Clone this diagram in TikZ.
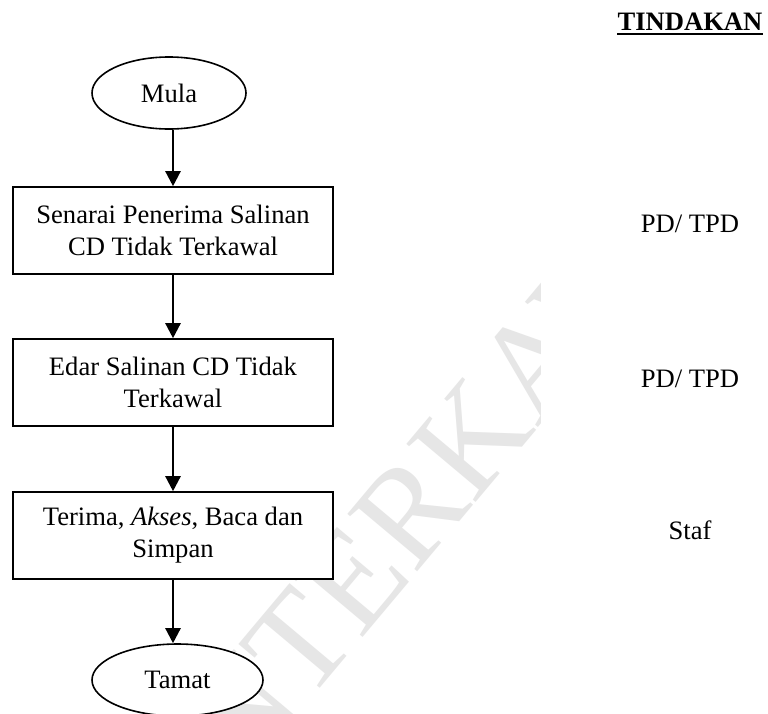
\documentclass[tikz,border=0pt]{standalone}
\usepackage{fontspec}
\setmainfont{Liberation Serif}
\usetikzlibrary{arrows.meta,shapes.geometric}
\definecolor{wmgray}{RGB}{230,230,230}
\tikzset{
  every node/.style={font=\fontsize{26.6}{32}\selectfont},
  stepbox/.style={draw, line width=1.6pt, fill=white, rectangle, minimum width=320pt, minimum height=87pt, align=center, inner sep=0pt},
  term/.style={draw, line width=1.6pt, fill=white, ellipse, inner sep=0pt},
  arr/.style={line width=2.4pt, -{Triangle[width=15pt,length=15pt]}},
  actor/.style={anchor=base, inner sep=0pt},
  wm/.style={text=wmgray, inner sep=0pt, rotate=50, font=\fontsize{138}{140}\selectfont}
}
\begin{document}
\begin{tikzpicture}[x=1pt,y=-1pt]
\useasboundingbox (0,0) rectangle (768,713);
\fill[white] (0,0) rectangle (768,713);
% watermark
\begin{scope}
\clip (0,0) rectangle (540,713);
\node[wm, anchor=base west] (wm2) at (306,705) {TERKAWAL};
\node[wm, anchor=base east] (wm1) at (wm2.base west) {SALINAN\ };
\end{scope}
% flow
\node[term, minimum width=154pt, minimum height=72pt] (mula) at (169,93) {Mula};
\node[stepbox] (b1) at (173,230.5) {Senarai Penerima Salinan\\CD Tidak Terkawal};
\node[stepbox] (b2) at (173,382.5) {Edar Salinan CD Tidak\\Terkawal};
\node[stepbox] (b3) at (173,535.5) {Terima, \textit{Akses}, Baca dan\\Simpan};
\node[term, minimum width=171pt, minimum height=72pt] (tamat) at (177.5,680) {Tamat};
\draw[arr] (b1.north |- mula.south) -- (b1.north);
\draw[arr] (b1.south) -- (b2.north);
\draw[arr] (b2.south) -- (b3.north);
\draw[arr] (b3.south) -- (b3.south |- tamat.north);
% actions
\node[actor, font=\fontsize{26.6}{32}\selectfont\bfseries] (tind) at (690,30) {TINDAKAN};
\draw[line width=2pt] ([yshift=-4]tind.base west) -- ([yshift=-4]tind.base east);
\node[actor] (a1) at (690,232) {PD/ TPD};
\node[actor] (a2) at (690,387) {PD/ TPD};
\node[actor] (a3) at (690,539) {Staf};
\end{tikzpicture}
\end{document}
